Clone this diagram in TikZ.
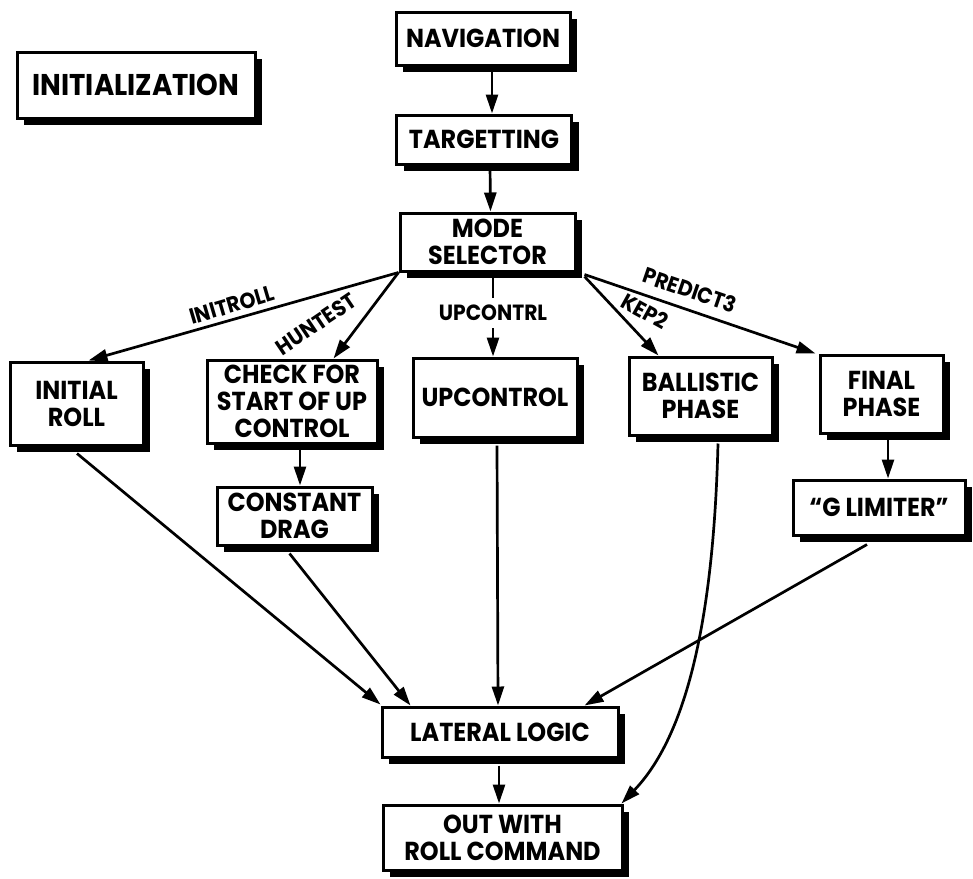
\documentclass[tikz,border=0pt]{standalone}
\usepackage{fontspec}
\setmainfont{Poppins}[FakeStretch=0.92]
\usetikzlibrary{arrows.meta,calc,shadows}
\newcommand\boxfont{\fontsize{26}{27}\selectfont\bfseries}
\newcommand\bigboxfont{\fontsize{30}{32}\selectfont\bfseries}
\newcommand\tagfont{\fontsize{22}{24}\selectfont\bfseries}
\tikzset{
  box/.style={draw, line width=3pt, fill=white, align=center, inner sep=0pt,
    font=\boxfont,
    drop shadow={shadow xshift=7pt, shadow yshift=-7pt, fill=black, opacity=1}},
  link/.style={line width=2.7pt, -{Triangle[length=19pt,width=12pt]}},
  tag/.style={font=\tagfont, inner sep=1pt},
}
\begin{document}
\begin{tikzpicture}[x=1pt,y=-1pt]
\useasboundingbox (0,0) rectangle (973,878);

% blocks
\node[box, minimum width=238pt, minimum height=66pt, font=\bigboxfont] (init) at (136,85) {INITIALIZATION};
\node[box, minimum width=174pt, minimum height=53pt] (nav) at (483,38.5) {NAVIGATION};
\node[box, minimum width=175pt, minimum height=49pt] (targ) at (484,139.5) {TARGETTING};
\node[box, minimum width=175pt, minimum height=58pt] (mode) at (487.5,242) {MODE\\SELECTOR};
\node[box, minimum width=133pt, minimum height=83pt] (iroll) at (76.5,403.5) {INITIAL\\ROLL};
\node[box, minimum width=170pt, minimum height=83pt] (check) at (292,401.5) {CHECK FOR\\START OF UP\\CONTROL};
\node[box, minimum width=164pt, minimum height=79pt] (upc) at (495,397.5) {UPCONTROL};
\node[box, minimum width=143pt, minimum height=78pt] (ball) at (700.5,396) {BALLISTIC\\PHASE};
\node[box, minimum width=123pt, minimum height=78pt] (final) at (881.5,394) {FINAL\\PHASE};
\node[box, minimum width=155pt, minimum height=58pt] (drag) at (294.5,516) {CONSTANT\\DRAG};
\node[box, minimum width=172pt, minimum height=55pt] (glim) at (879,507.5) {“G LIMITER”};
\node[box, minimum width=236pt, minimum height=50pt] (lat) at (500,732) {LATERAL LOGIC};
\node[box, minimum width=239pt, minimum height=65pt] (out) at (502.5,837.5) {OUT WITH\\ROLL COMMAND};

% flow
\draw[link] ($(nav.south)+(9,0)$) -- ($(targ.north)+(8,0)$);
\draw[link] ($(targ.south)+(6,0)$) -- ($(mode.north)+(3,0)$);
\draw[link] (mode.south west) -- ($(iroll.north west)+(80,0)$);
\draw[link] (mode.south west) -- ($(check.north west)+(128,0)$);
\draw[link] ($(mode.south)+(5.5,0)$) -- node[tag, pos=0.48, fill=white, inner ysep=7pt] (lblup) {UPCONTRL} ($(upc.north)+(-2,0)$);
\draw[link] ($(mode.south east)+(8,4)$) -- ($(ball.north west)+(31,0)$);
\draw[link] ($(mode.south east)+(8,2)$) -- ($(final.north west)+(-3,0)$);
\draw[link] ($(check.south)+(8,0)$) -- ($(drag.north)+(5.5,0)$);
\draw[link] ($(final.south)+(6.5,0)$) -- ($(glim.north)+(9,0)$);
\draw[link] ($(iroll.south)+(0.5,7)$) -- ($(lat.north west)+(0,-1)$);
\draw[link] ($(drag.south)+(-5,7)$) -- ($(lat.north west)+(30,0)$);
\draw[link] ($(upc.south)+(2,7)$) -- ($(lat.north)+(-2,0)$);
\draw[link] ($(glim.south)+(-12,8)$) -- ($(lat.north east)+(-35,0)$);
\draw[link] ($(lat.south)+(-1,7)$) -- ($(out.north)+(-3.5,0)$);
\draw[link] ($(ball.south)+(17.5,7)$) .. controls (714,600) and (692,730) .. ($(out.north east)+(-2,0)$);

% branch names
\node[tag, rotate=16.4] (lblinit) at (232,305) {INITROLL};
\node[tag, rotate=34] (lblhun) at (316,324) {HUNTEST};
\node[tag, rotate=-29] (lblkep) at (645,311) {KEP2};
\node[tag, rotate=-19] (lblpred) at (690,290) {PREDICT3};
\end{tikzpicture}
\end{document}
